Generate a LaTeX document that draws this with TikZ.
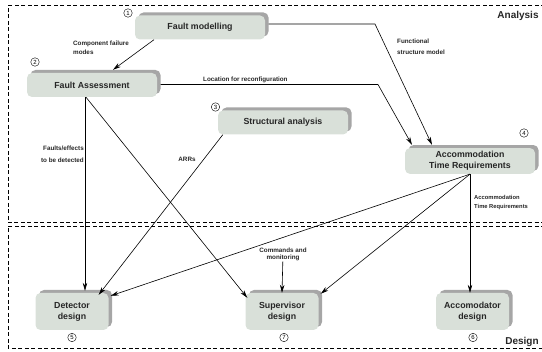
\documentclass[tikz,border=0pt]{standalone}
\usepackage{fontspec}
\setmainfont{Liberation Sans}
\usetikzlibrary{positioning}
\usetikzlibrary{calc}
\usetikzlibrary{shadows}
\usetikzlibrary{arrows.meta}
\definecolor{boxfill}{HTML}{D9E0D9}
\definecolor{boxshade}{HTML}{A6A6A6}
\definecolor{inktext}{HTML}{262626}

\begin{document}
\begin{tikzpicture}[x=1pt, y=-1pt,
stagebox/.style={rectangle, rounded corners=5pt, fill=boxfill, minimum width=130pt, minimum height=24pt, align=center, text=inktext, font=\fontsize{8.8}{11}\selectfont\bfseries, drop shadow={shadow xshift=3.5pt, shadow yshift=3pt, fill=boxshade, opacity=1}},
designbox/.style={stagebox, minimum width=73pt, minimum height=37pt},
stepnum/.style={circle, draw=black, thin, inner sep=0pt, minimum size=8.5pt, font=\fontsize{6}{6}\selectfont},
flowlabel/.style={inner sep=0pt, text=inktext, font=\fontsize{6.3}{8.5}\selectfont\bfseries},
flow/.style={-{Stealth[length=8pt, width=4.5pt]}, semithick},
phase/.style={dash pattern=on 4pt off 2.5pt, semithick}]
\useasboundingbox (0,0) rectangle (542,352);

% phase frames
\draw[phase] (545,5.5) -- (8,5.5) -- (8,222.5) -- (545,222.5);
\draw[phase] (545,226) -- (8,226) -- (8,348) -- (545,348);
\node[font=\fontsize{10}{10}\selectfont\bfseries, text=inktext] (analysis) at (518,16) {Analysis};
\node[font=\fontsize{10}{10}\selectfont\bfseries, text=inktext] (design) at (522,342) {Design};

% stages
\node[stagebox] (model) at (200,27.5) {Fault modelling};
\node[stagebox] (assess) at (92,85) {Fault Assessment};
\node[stagebox] (struct) at (283,122.5) {Structural analysis};
\node[stagebox] (accreq) at (470,161) {Accommodation\\Time Requirements};
\node[designbox] (detect) at (72,311.5) {Detector\\design};
\node[designbox] (superv) at (282,311.5) {Supervisor\\design};
\node[designbox] (accom) at (472.5,311.5) {Accomodator\\design};

% step numbers
\node[stepnum] (n1) at (128,13) {1};
\node[stepnum] (n2) at (35,62) {2};
\node[stepnum] (n3) at (215.5,107) {3};
\node[stepnum] (n4) at (524,133) {4};
\node[stepnum] (n5) at (72,337.5) {5};
\node[stepnum] (n6) at (473,337.5) {6};
\node[stepnum] (n7) at (284,337.5) {7};

% labels
\node[flowlabel, anchor=west, align=left] (lbfail) at (73,48) {Component failure\\modes};
\node[flowlabel, anchor=west, align=left, font=\fontsize{6.3}{11}\selectfont\bfseries] (lbfunc) at (397,46.5) {Functional\\structure model};
\node[flowlabel, anchor=west] (lbloc) at (203,79.5) {Location for reconfiguration};
\node[flowlabel, anchor=east, align=right, font=\fontsize{6.3}{12}\selectfont\bfseries] (lbfault) at (84,154) {Faults/effects\\to be detected};
\node[flowlabel] (lbarr) at (187,159) {ARRs};
\node[flowlabel, anchor=west, align=left, font=\fontsize{5.8}{8.5}\selectfont\bfseries] (lbtime) at (474,202.5) {Accommodation\\Time Requirements};
\node[flowlabel, align=center, font=\fontsize{6.3}{7.5}\selectfont\bfseries] (cmdlbl) at (283,254.5) {Commands and\\monitoring};

% connectors
\coordinate (turnA) at (375,24);
\coordinate (turnB) at (378,84.5);
\draw[flow] ($(model.south)+(-46,0)$) -- ($(assess.north)+(21,-3)$);
\draw[flow] ($(model.east)+(3.5,-3.5)$) -- (turnA) -- ($(accreq.north)+(-38,-3)$);
\draw[flow] ($(assess.east)+(3.5,-0.5)$) -- (turnB) -- ($(accreq.north)+(-58,-3)$);
\draw[flow] ($(assess.south)+(-7,0)$) -- ($(detect.north)+(13,-2)$);
\draw[flow] ($(assess.south)+(-6,0)$) -- ($(superv.north west)+(2,5)$);
\draw[flow] ($(struct.south west)+(5,0)$) -- ($(detect.north east)+(-10,2)$);
\draw[flow] (accreq.south) -- ($(detect.north east)+(2,3)$);
\draw[flow] (accreq.south) -- ($(superv.north east)+(2,1)$);
\draw[flow] (accreq.south) -- (accreq.south |- accom.north);
\draw[flow] (cmdlbl) -- (superv.north);
\end{tikzpicture}
\end{document}
